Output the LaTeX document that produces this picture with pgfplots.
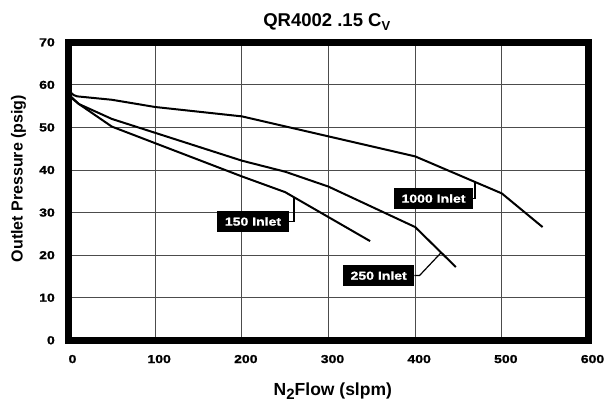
\documentclass[border=0pt]{standalone}
\usepackage{fontspec}
\setmainfont{Liberation Sans}
\newfontfamily\heavy{Liberation Sans Bold}[FakeStretch=1.22, FakeBold=1.3]
\usepackage{pgfplots}
\pgfplotsset{compat=1.18}
\usetikzlibrary{calc}

\tikzset{lbl/.style={fill=black, text=white, font=\fontsize{11.5}{12}\heavy,
    inner xsep=7.5pt, inner ysep=0pt, minimum height=21.7pt}}

\begin{document}
\begin{tikzpicture}
\begin{axis}[
    name=ax,
    scale only axis,
    width=520pt, height=298pt,
    xmin=0, xmax=600, ymin=0, ymax=70,
    xtick={0,100,...,600}, ytick={0,10,...,70},
    grid=major,
    major grid style={black!70, line width=0.8pt},
    axis line style={draw=none},
    tick style={draw=none},
    /pgf/number format/assume math mode=true,
    ticklabel style={font=\fontsize{11.5}{12}\heavy, inner sep=0pt},
    xticklabel style={anchor=north, yshift=-14.5pt, xshift=4pt},
    yticklabel style={anchor=east, xshift=-13.5pt},
    clip=false,
]
% 1000 inlet
\addplot[black, line width=2pt] coordinates {
    (0,59.5) (2,58.3) (6,57.6) (10,57.3) (50,56.5) (100,54.8) (200,52.6)
    (400,43.2) (500,34.5) (547,26.6)
};
% 250 inlet
\addplot[black, line width=2pt] coordinates {
    (0,58.6) (3,57.2) (12,55.5) (50,52) (200,42.2) (250,39.6) (300,36.1)
    (400,26.6) (447,17.2)
};
% 150 inlet
\addplot[black, line width=2pt] coordinates {
    (0,58.3) (3,57.0) (12,55.5) (50,50.2) (200,38.5) (250,34.8) (348,23.3)
};

\node[lbl] (b150) at (axis cs:212.9,27.9) {150 Inlet};
\draw[line width=1.2pt] (b150.east) -| (axis cs:260.2,33.6);
\node[lbl] (b1000) at (axis cs:421.2,33.3) {1000 Inlet};
\draw[line width=1.2pt] (b1000.east) -| (axis cs:469,37.1);
\node[lbl] (b250) at (axis cs:357.9,15.2) {250 Inlet};
\draw[line width=1.2pt] (b250.east) -- ++(5pt,0) -- (axis cs:430,20.6);

\node[font=\fontsize{18.5}{20}\selectfont\bfseries, anchor=base]
    at (axis cs:298,73.8) {QR4002 .15 C\raisebox{-0.25em}{\fontsize{13}{13}\selectfont V}};
\node[font=\fontsize{17.5}{19}\selectfont\bfseries, anchor=base]
    at (axis cs:305,-12.96) {N\raisebox{-0.25em}{\fontsize{15}{15}\selectfont 2}Flow (slpm)};
\node[font=\fontsize{16}{18}\selectfont\bfseries, rotate=90, anchor=base]
    at (axis cs:-53,38) {Outlet Pressure (psig)};
\end{axis}
\draw[line width=6.5pt] (ax.south west) rectangle (ax.north east);
\pgfresetboundingbox
\path[use as bounding box] ($(ax.south west)+(-68.5pt,-61.5pt)$) rectangle ($(ax.north east)+(16.5pt,42.3pt)$);
\end{tikzpicture}
\end{document}
